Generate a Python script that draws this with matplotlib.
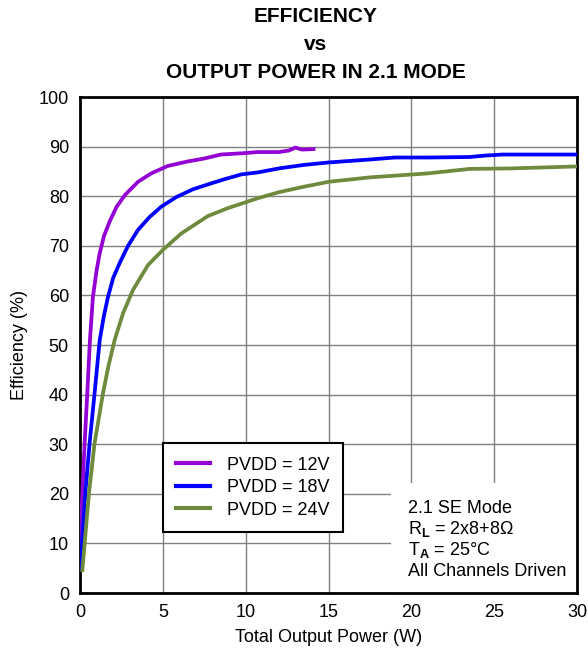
import matplotlib
matplotlib.use('Agg')
import matplotlib.pyplot as plt
from matplotlib.patches import Rectangle

plt.rcParams['font.family'] = ['Liberation Sans', 'DejaVu Sans']
plt.rcParams['mathtext.fontset'] = 'custom'
plt.rcParams['mathtext.rm'] = 'Liberation Sans'
plt.rcParams['mathtext.bf'] = 'Liberation Sans:bold'

# PVDD = 12V
p12 = [0.04, 0.08, 0.14, 0.28, 0.44, 0.6, 0.78, 1.0, 1.19, 1.45, 1.79, 2.2, 2.7, 3.5, 4.3, 5.3,
       6.5, 7.5, 8.5, 10, 10.7, 12, 12.6, 13.0, 13.4, 14.1]
e12 = [6, 15, 20.1, 30.2, 40.3, 51, 59.7, 65, 68.5, 72, 74.9, 77.8, 80.2, 82.9, 84.6, 86.1,
       87.0, 87.6, 88.4, 88.7, 88.9, 88.9, 89.2, 89.8, 89.4, 89.5]

# PVDD = 18V
p18 = [0.05, 0.12, 0.32, 0.58, 0.88, 1.19, 1.45, 1.69, 2.0, 2.39, 2.9, 3.5, 4.2, 4.91, 5.8,
       6.82, 7.93, 8.8, 9.74, 10.74, 12, 13.5, 15, 17.5, 19, 21, 23.5, 24.5, 25.5, 27, 30]
e18 = [5, 10, 20.1, 30.2, 40.3, 51, 56, 59.7, 63.5, 66.5, 70, 73.2, 75.8, 77.9, 79.8,
       81.4, 82.6, 83.5, 84.4, 84.8, 85.6, 86.3, 86.8, 87.4, 87.8, 87.8, 87.9, 88.2, 88.4, 88.4, 88.4]

# PVDD = 24V
p24 = [0.14, 0.28, 0.54, 0.88, 1.39, 1.7, 2.09, 2.6, 3.2, 4.1, 5.01, 6.12, 7.72, 8.93, 10.74,
       12, 13.5, 15, 17.5, 19.7, 21, 23.5, 26, 30]
e24 = [4.6, 10, 20.1, 30.2, 40.3, 45.5, 51, 56.4, 61.1, 66.1, 69.2, 72.5, 76, 77.6, 79.6,
       80.8, 81.9, 82.9, 83.8, 84.3, 84.6, 85.5, 85.6, 86.0]

conditions = ['2.1 SE Mode', 'R$_{\\mathbf{L}}$ = 2x8+8Ω', 'T$_{\\mathbf{A}}$ = 25°C', 'All Channels Driven']

fig = plt.figure(figsize=(5.88, 6.5), dpi=100)
ax = fig.add_axes([80/588, 57/650, 497/588, 496/650])

ax.plot(p12, e12, color='#9400D3', lw=2.7, label='PVDD = 12V', zorder=3)
ax.plot(p18, e18, color='#0000FF', lw=2.7, label='PVDD = 18V', zorder=3)
ax.plot(p24, e24, color='#6E8B3D', lw=2.7, label='PVDD = 24V', zorder=3)

ax.set_xlim(0, 30)
ax.set_ylim(0, 100)
ax.set_xticks(range(0, 31, 5))
ax.set_yticks(range(0, 101, 10))
ax.grid(True, color='#808080', lw=1.0)
ax.set_axisbelow(True)
ax.tick_params(length=0, labelsize=13, pad=8)
for s in ax.spines.values():
    s.set_linewidth(2)

ax.set_xlabel('Total Output Power (W)', fontsize=13, labelpad=6)
ax.set_ylabel('Efficiency (%)', fontsize=13, labelpad=8)

# white box behind the conditions text
ax.add_patch(Rectangle((18.8, 0), 11.2, 22.2, facecolor='white', edgecolor='none', zorder=2))
for i, line in enumerate(conditions):
    ax.text(19.8, 16.1 - 4.2 * i, line, fontsize=13, va='baseline', ha='left', zorder=4)

leg = ax.legend(loc='upper left', bbox_to_anchor=(0.166, 0.302), borderaxespad=0, fontsize=13,
                fancybox=False, framealpha=1, edgecolor='black', handlelength=1.9,
                handletextpad=0.9, borderpad=0.75, labelspacing=0.3)
leg.get_frame().set_linewidth(1.5)
for h in leg.get_lines():
    h.set_linewidth(3)

tx = 316 / 588
fig.text(tx, 1 - 17/650, 'EFFICIENCY', ha='center', va='center', fontsize=15, fontweight='bold')
fig.text(tx, 1 - 44/650, 'vs', ha='center', va='center', fontsize=15, fontweight='bold')
fig.text(tx, 1 - 72/650, 'OUTPUT POWER IN 2.1 MODE', ha='center', va='center', fontsize=15,
         fontweight='bold')

plt.savefig('out.png', dpi=100)
